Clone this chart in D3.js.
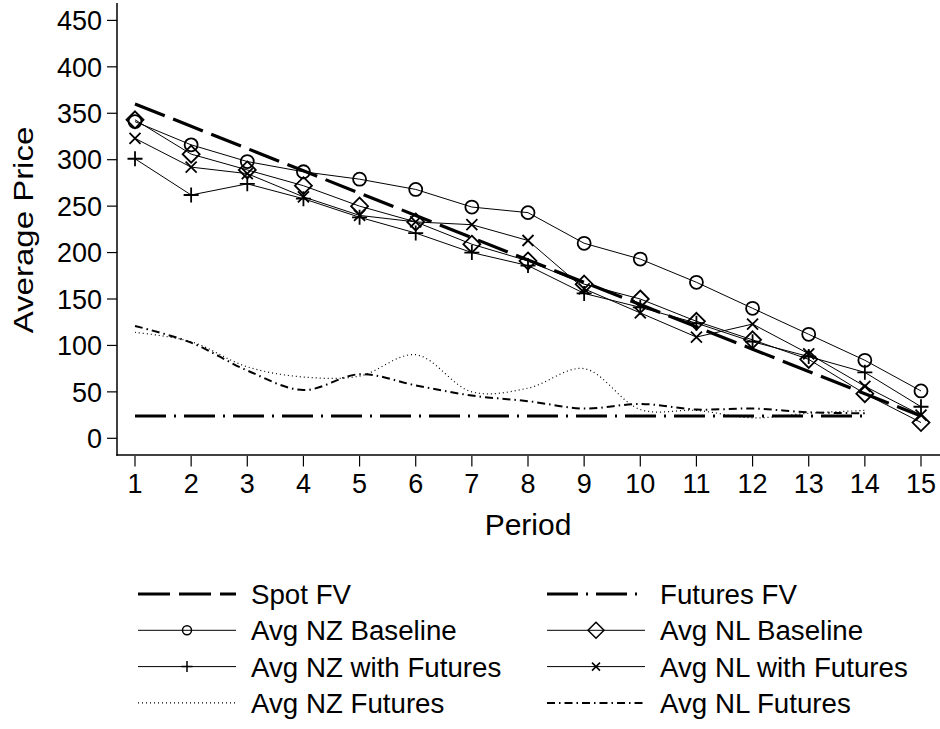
<!DOCTYPE html>
<html><head><meta charset="utf-8">
<script src="https://cdn.jsdelivr.net/npm/d3@7"></script>
<style>body{margin:0;background:#fff}svg{display:block}text{font-family:"Liberation Sans",Arial,sans-serif;fill:#000}</style>
</head><body>
<svg id="c" width="940" height="729"></svg>
<script>
const periods = [1,2,3,4,5,6,7,8,9,10,11,12,13,14,15];
const yTicks = [0,50,100,150,200,250,300,350,400,450];
const spotFV = [360,336,312,288,264,240,216,192,168,144,120,96,72,48,24];
const futuresFV = [24,24,24,24,24,24,24,24,24,24,24,24,24,24];
const nzBaseline = [341,316,298,287,279,268,249,243,210,193,168,140,112,84,51];
const nlBaseline = [343,306,289,272,250,233,209,191,166,150,126,106,85,48,17];
const nzWithFut = [301,262,274,258,238,221,200,186,156,141,124,104,88,71,34];
const nlWithFut = [323,292,285,260,240,233,230,213,161,135,109,123,91,56,25];
const nzFutures = [114,104,77,66,67,90,50,54,75,31,30,22,27,30];
const nlFutures = [121,103,73,52,69,57,46,40,32,37,31,32,28,27];

const svg = d3.select("#c");
const x = d3.scaleLinear().domain([1,15]).range([135,921]);
const y = d3.scaleLinear().domain([0,450]).range([438.3,20.4]);

function txt(px, py, s, size, anchor, dy){
  return svg.append("text").attr("x",px).attr("y",py)
    .attr("text-anchor",anchor||"start").attr("dy",dy||null).attr("font-size",size).text(s);
}

// axes
svg.append("line").attr("x1",117).attr("x2",117).attr("y1",3).attr("y2",455.7).attr("stroke","#000").attr("stroke-width",1.5);
svg.append("line").attr("x1",116.3).attr("x2",940).attr("y1",455).attr("y2",455).attr("stroke","#000").attr("stroke-width",1.5);

yTicks.forEach(t=>{
  svg.append("line").attr("x1",107).attr("x2",117).attr("y1",y(t)).attr("y2",y(t)).attr("stroke","#000").attr("stroke-width",1.2);
  txt(102, y(t), t, 27, "end", "0.36em");
});
periods.forEach(p=>{
  svg.append("line").attr("x1",x(p)).attr("x2",x(p)).attr("y1",456).attr("y2",466.5).attr("stroke","#000").attr("stroke-width",1.2);
  txt(x(p), 493, p, 27, "middle");
});
txt(528, 535, "Period", 30, "middle");
svg.append("text").attr("transform",`translate(33,230) scale(0.85,1) rotate(-90)`).attr("text-anchor","middle").attr("font-size",33).text("Average Price");

function path(vals, curve){
  return d3.line().x((d,i)=>x(periods[i])).y(d=>y(d)).curve(curve||d3.curveLinear)(vals);
}
function drawLine(vals, st, curve){
  svg.append("path").attr("d",path(vals,curve)).attr("fill","none").attr("stroke","#000")
    .attr("stroke-width",st.w).attr("stroke-dasharray",st.dash||null);
}
const styles = {
  spot:{w:3.2,dash:"32,9"},
  ffv:{w:3.2,dash:"31,8,2,8"},
  solid:{w:1},
  nzf:{w:1.2,dash:"1,3"},
  nlf:{w:2,dash:"8,4,1.5,4"}
};

function marker(g, type, cx, cy, s){
  if(type==="circle") g.append("circle").attr("cx",cx).attr("cy",cy).attr("r",s).attr("fill","none").attr("stroke","#000").attr("stroke-width",1.8);
  if(type==="diamond") g.append("path").attr("d",`M${cx},${cy-s}L${cx+s},${cy}L${cx},${cy+s}L${cx-s},${cy}Z`).attr("fill","none").attr("stroke","#000").attr("stroke-width",1.8);
  if(type==="plus") g.append("path").attr("d",`M${cx-s},${cy}H${cx+s}M${cx},${cy-s}V${cy+s}`).attr("stroke","#000").attr("stroke-width",1.8);
  if(type==="x") g.append("path").attr("d",`M${cx-s},${cy-s}L${cx+s},${cy+s}M${cx-s},${cy+s}L${cx+s},${cy-s}`).attr("stroke","#000").attr("stroke-width",1.8);
}
function drawMarkers(vals,type,s){
  const g = svg.append("g");
  vals.forEach((v,i)=>marker(g,type,x(periods[i]),y(v),s));
}

drawLine(futuresFV, styles.ffv);
drawLine(nzFutures, styles.nzf, d3.curveCatmullRom);
drawLine(nlFutures, styles.nlf, d3.curveCatmullRom);
drawLine(nzBaseline, styles.solid);
drawLine(nlBaseline, styles.solid);
drawLine(nzWithFut, styles.solid);
drawLine(nlWithFut, styles.solid);
drawLine(spotFV, styles.spot);
drawMarkers(nzBaseline,"circle",6.5);
drawMarkers(nlBaseline,"diamond",8.5);
drawMarkers(nzWithFut,"plus",7.5);
drawMarkers(nlWithFut,"x",5.5);

// legend
const legend = [
  {label:"Spot FV", st:styles.spot, col:0, row:0},
  {label:"Futures FV", st:styles.ffv, col:1, row:0},
  {label:"Avg NZ Baseline", st:styles.solid, m:"circle", ms:4.5, col:0, row:1},
  {label:"Avg NL Baseline", st:styles.solid, m:"diamond", ms:8, col:1, row:1},
  {label:"Avg NZ with Futures", st:styles.solid, m:"plus", ms:5.5, col:0, row:2},
  {label:"Avg NL with Futures", st:styles.solid, m:"x", ms:4, col:1, row:2},
  {label:"Avg NZ Futures", st:styles.nzf, col:0, row:3},
  {label:"Avg NL Futures", st:styles.nlf, col:1, row:3}
];
legend.forEach(d=>{
  const x0 = d.col===0 ? 138 : 547, x1 = x0+98, yy = 594 + d.row*36.3;
  svg.append("line").attr("x1",x0).attr("x2",x1).attr("y1",yy).attr("y2",yy).attr("stroke","#000")
    .attr("stroke-width",d.st.w).attr("stroke-dasharray",d.st.dash||null);
  if(d.m){ const g=svg.append("g"); marker(g,d.m,(x0+x1)/2,yy,d.ms); g.selectAll("*").attr("stroke-width",1.5); }
  txt(x1+15, yy, d.label, 27.7, "start", "0.36em");
});
</script>
</body></html>
